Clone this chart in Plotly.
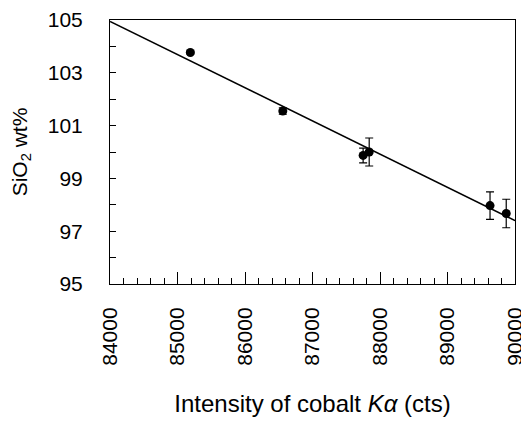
import plotly.graph_objects as go

# Data
intensity = [85190, 86560, 87750, 87840, 89630, 89870]
sio2 = [103.77, 101.55, 99.87, 100.0, 97.97, 97.67]
sio2_err = [0.05, 0.12, 0.28, 0.53, 0.52, 0.54]

fit_x = [84000, 90000]
fit_y = [104.95, 97.40]

x_ticks = [84000, 85000, 86000, 87000, 88000, 89000, 90000]
y_ticks = [95, 97, 99, 101, 103, 105]

font_family = "Liberation Sans, Arial, sans-serif"

fig = go.Figure()
fig.add_trace(go.Scatter(
    x=fit_x, y=fit_y, mode="lines",
    line=dict(color="black", width=1.5), showlegend=False,
))
fig.add_trace(go.Scatter(
    x=intensity, y=sio2, mode="markers",
    marker=dict(color="black", size=9),
    error_y=dict(type="data", array=sio2_err, visible=True,
                 color="black", thickness=1.2, width=4),
    showlegend=False,
))

# the page body adds an 8px margin, so the figure is sized to fit inside it
fig.update_layout(
    width=521, height=413,
    margin=dict(l=102, r=14, t=12, b=137),
    paper_bgcolor="white", plot_bgcolor="white",
    font=dict(family=font_family, size=21, color="black"),
    xaxis=dict(
        range=[84000, 90000], automargin=False,
        tickmode="array", tickvals=x_ticks,
        ticktext=[str(v) for v in x_ticks],
        tickangle=-90,
        ticks="inside", ticklen=12, tickwidth=1, tickcolor="black",
        minor=dict(dtick=200, ticks="inside", ticklen=6, tickwidth=1, tickcolor="black"),
        showline=True, linecolor="black", linewidth=1, mirror=True,
        showgrid=False, zeroline=False,
        ticklabelstandoff=14,
        tickfont=dict(size=21),
        title=dict(text="Intensity of cobalt <i>Kα</i> (cts)", standoff=30,
                   font=dict(size=24)),
    ),
    yaxis=dict(
        range=[95, 105], automargin=False,
        tickmode="array", tickvals=y_ticks,
        ticktext=[str(v) for v in y_ticks],
        ticks="inside", ticklen=6, tickwidth=1, tickcolor="black",
        minor=dict(dtick=1, ticks="inside", ticklen=6, tickwidth=1, tickcolor="black"),
        showline=True, linecolor="black", linewidth=1, mirror=True,
        showgrid=False, zeroline=False,
        ticklabelstandoff=22,
        tickfont=dict(size=21),
        title=dict(text="SiO<sub>2</sub> wt%", standoff=20, font=dict(size=21)),
    ),
)

fig.write_html("out.html")
